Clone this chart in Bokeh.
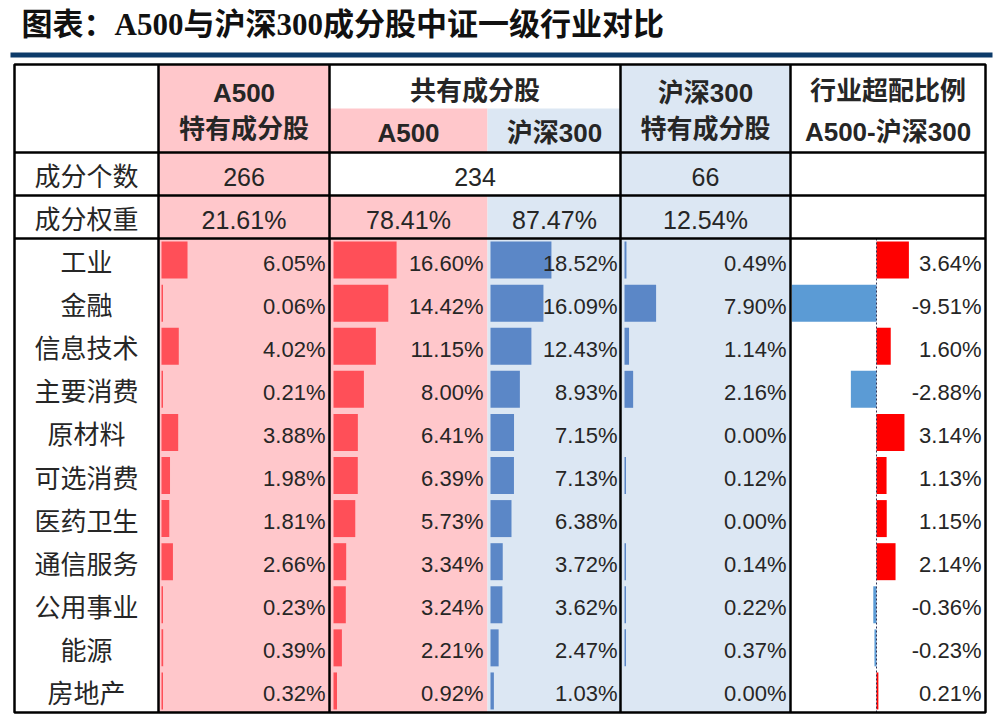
from bokeh.plotting import figure
from bokeh.models import Range1d
from bokeh.core.properties import value
from bokeh.embed import file_html
from bokeh.resources import INLINE

# ---------------- data ----------------
title = "图表：A500与沪深300成分股中证一级行业对比"
industries = ["工业", "金融", "信息技术", "主要消费", "原材料", "可选消费",
              "医药卫生", "通信服务", "公用事业", "能源", "房地产"]
a500_only = [6.05, 0.06, 4.02, 0.21, 3.88, 1.98, 1.81, 2.66, 0.23, 0.39, 0.32]
common_a500 = [16.60, 14.42, 11.15, 8.00, 6.41, 6.39, 5.73, 3.34, 3.24, 2.21, 0.92]
common_hs300 = [18.52, 16.09, 12.43, 8.93, 7.15, 7.13, 6.38, 3.72, 3.62, 2.47, 1.03]
hs300_only = [0.49, 7.90, 1.14, 2.16, 0.00, 0.12, 0.00, 0.14, 0.22, 0.37, 0.00]
overweight = [3.64, -9.51, 1.60, -2.88, 3.14, 1.13, 1.15, 2.14, -0.36, -0.23, 0.21]
summary_rows = ["成分个数", "成分权重"]
count_labels = ["266", "234", "66"]
weight_labels = ["21.61%", "78.41%", "87.47%", "12.54%"]
header_texts = ["A500", "特有成分股", "共有成分股", "A500", "沪深300",
                "沪深300", "特有成分股", "行业超配比例", "A500-沪深300"]

# ---------------- layout ----------------
edges = [14, 158, 329, 487, 620, 790, 985]
top, sub, hdr, r1, r2, bottom = 64, 108, 152, 195, 238, 712
n = len(industries)
rh = (bottom - r2) / n
yc = [r2 + (i + 0.5) * rh for i in range(n)]
bar_h = 37

PINK = "#FFC7CB"
LBLUE = "#DCE7F3"
RED_BAR = "#FF4F58"
BLUE_BAR = "#5B87C7"
OW_RED = "#FF0000"
OW_BLUE = "#5B9BD5"
TXT = "#262626"
NAVY = "#0D3B6A"

SANS = "Liberation Sans, Noto Sans CJK SC"
SERIF = "Liberation Serif, Noto Sans CJK SC"

W, H = 996, 720
p = figure(width=W, height=H, output_backend="svg", toolbar_location=None,
           x_range=Range1d(0, W), y_range=Range1d(H, 0),
           min_border=0, outline_line_color=None, background_fill_color="white")
p.axis.visible = False
p.grid.visible = False

# title and rule
p.text(x=[21], y=[24], text=[title], text_font=value(SERIF), text_font_size="31px",
       text_font_style="bold", text_color="#111111", text_baseline="middle", text_align="left")
p.quad(left=[10], right=[992], top=[52], bottom=[57], fill_color=NAVY, line_color=None)

# backgrounds
p.quad(left=[edges[1]], right=[edges[2]], top=[top], bottom=[bottom], fill_color=PINK, line_color=None)
p.quad(left=[edges[2], edges[2]], right=[edges[3], edges[3]], top=[sub, r1], bottom=[hdr, bottom],
       fill_color=PINK, line_color=None)
p.quad(left=[edges[3], edges[3]], right=[edges[4], edges[4]], top=[sub, r1], bottom=[hdr, bottom],
       fill_color=LBLUE, line_color=None)
p.quad(left=[edges[4]], right=[edges[5]], top=[top], bottom=[bottom], fill_color=LBLUE, line_color=None)

# bars
def bars(vals, x0, scale, color):
    ys = [y for y, v in zip(yc, vals) if v > 0]
    right = [x0 + max(v * scale, 1.5) for v in vals if v > 0]
    p.hbar(y=ys, left=[x0] * len(ys), right=right, height=bar_h,
           fill_color=color, line_color=None)

bars(a500_only, 161, 4.3, RED_BAR)
bars(common_a500, 333, 3.8, RED_BAR)
bars(common_hs300, 490, 3.29, BLUE_BAR)
bars(hs300_only, 624, 4.0, BLUE_BAR)

zero = 876
ow_scale = 8.9
p.hbar(y=[y for y, v in zip(yc, overweight) if v > 0],
       left=[zero] * sum(1 for v in overweight if v > 0),
       right=[zero + max(v * ow_scale, 1.5) for v in overweight if v > 0],
       height=bar_h, fill_color=OW_RED, line_color=None)
p.hbar(y=[y for y, v in zip(yc, overweight) if v < 0],
       left=[zero + min(v * ow_scale, -1.5) for v in overweight if v < 0],
       right=[zero] * sum(1 for v in overweight if v < 0),
       height=bar_h, fill_color=OW_BLUE, line_color=None)
p.segment(x0=[zero], y0=[r2], x1=[zero], y1=[bottom], line_color="#333355",
          line_width=1, line_dash="2 2")

# value texts
def fmt(v):
    return f"{v:.2f}%"

ty = [y + 3 for y in yc]
for vals, xr in [(a500_only, 325), (common_a500, 483), (common_hs300, 617),
                 (hs300_only, 786), (overweight, 981)]:
    p.text(x=[xr] * n, y=ty, text=[fmt(v) for v in vals], text_font=value(SANS),
           text_font_size="22px", text_color=TXT, text_align="right", text_baseline="middle")

# row labels
lab_x = (edges[0] + edges[1]) / 2
p.text(x=[lab_x] * n, y=[y + 3 for y in yc], text=industries, text_font=value(SANS),
       text_font_size="26px", text_color=TXT, text_align="center", text_baseline="middle")
p.text(x=[lab_x] * 2, y=[(hdr + r1) / 2 + 3, (r1 + r2) / 2 + 3], text=summary_rows,
       text_font=value(SANS), text_font_size="26px", text_color=TXT,
       text_align="center", text_baseline="middle")

# summary rows
cy = (hdr + r1) / 2 + 3
wy = (r1 + r2) / 2 + 3
p.text(x=[(edges[1] + edges[2]) / 2, (edges[2] + edges[4]) / 2, (edges[4] + edges[5]) / 2],
       y=[cy] * 3, text=count_labels, text_font=value(SANS), text_font_size="25px",
       text_color=TXT, text_align="center", text_baseline="middle")
p.text(x=[(edges[1] + edges[2]) / 2, 408, 554, (edges[4] + edges[5]) / 2],
       y=[wy] * 4, text=weight_labels, text_font=value(SANS), text_font_size="25px",
       text_color=TXT, text_align="center", text_baseline="middle")

# headers
hx = [(edges[1] + edges[2]) / 2, (edges[1] + edges[2]) / 2,
      (edges[2] + edges[4]) / 2, 408, 554,
      (edges[4] + edges[5]) / 2, (edges[4] + edges[5]) / 2,
      (edges[5] + edges[6]) / 2, (edges[5] + edges[6]) / 2]
hy = [92, 128, 90, 132, 132, 92, 128, 90, 131]
p.text(x=hx, y=hy, text=header_texts, text_font=value(SANS), text_font_size="26px",
       text_font_style="bold", text_color=TXT, text_align="center", text_baseline="middle")

# grid lines
LW = 2.5
p.quad(left=[edges[0]], right=[edges[-1]], top=[top], bottom=[bottom],
       fill_color=None, line_color="black", line_width=LW)
vx = [edges[1], edges[2], edges[4], edges[5]]
p.segment(x0=vx, y0=[top] * 4, x1=vx, y1=[bottom] * 4, line_color="black", line_width=LW)
hyl = [hdr, r1, r2]
p.segment(x0=[edges[0]] * 3, y0=hyl, x1=[edges[-1]] * 3, y1=hyl, line_color="black", line_width=LW)

open("out.html", "w").write(file_html(p, INLINE))
